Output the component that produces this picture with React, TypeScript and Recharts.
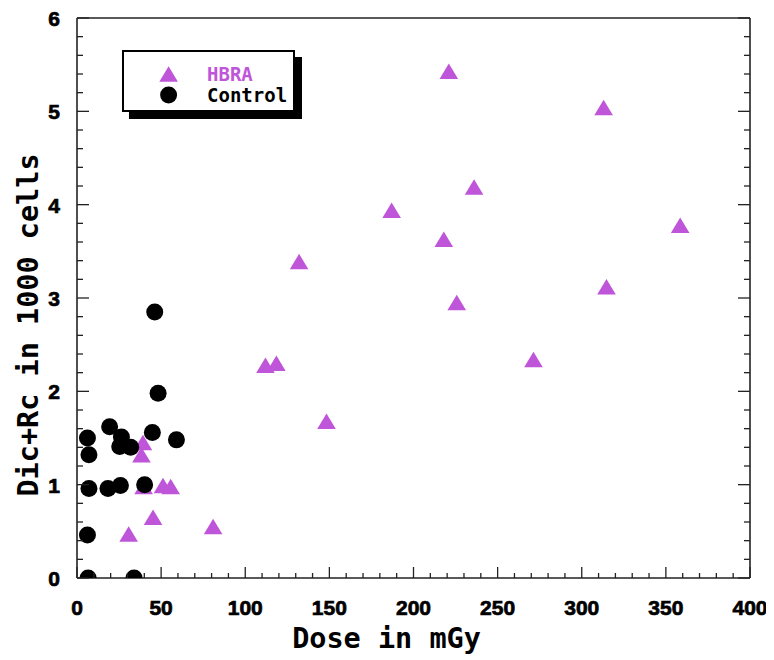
import { ScatterChart, Scatter, XAxis, YAxis, Legend } from "recharts";

const hbraDose = [221, 313, 236, 187, 218, 358.5, 225.7, 314.7, 132, 271.3, 112, 118.5, 148.3, 80.9, 45.2, 30.7, 39.2, 38.3, 51.1, 55.7, 39.6];
const hbraDicRc = [5.43, 5.04, 4.19, 3.94, 3.63, 3.78, 2.95, 3.12, 3.39, 2.34, 2.28, 2.3, 1.68, 0.55, 0.65, 0.47, 1.45, 1.32, 0.99, 0.98, 0.98];

const controlDose = [6.6, 33.9, 6.2, 7.1, 18.4, 25.8, 40.2, 7.1, 6.2, 19.4, 26.4, 25.4, 31.9, 44.8, 59.1, 48.2, 46.2];
const controlDicRc = [0, 0, 0.46, 0.96, 0.96, 0.99, 1.0, 1.32, 1.5, 1.62, 1.51, 1.41, 1.4, 1.56, 1.48, 1.98, 2.85];

const xMajor = [0, 50, 100, 150, 200, 250, 300, 350, 400];
const yMajor = [0, 1, 2, 3, 4, 5, 6];

const xTicks: number[] = [];
for (let v = 0; v <= 400; v += 10) xTicks.push(v);
const yTicks: number[] = [];
for (let i = 0; i <= 30; i++) yTicks.push(Math.round(i * 20) / 100);

const PURPLE = "#bf55d9";
const AXIS = "#222";
const MONO = "'DejaVu Sans Mono', monospace";
const SANS = "'Liberation Sans', Arial, sans-serif";

const hbraData = hbraDose.map((d, i) => ({ dose: d, val: hbraDicRc[i] }));
const controlData = controlDose.map((d, i) => ({ dose: d, val: controlDicRc[i] }));

const isMajorX = (v: number) => xMajor.includes(v);
const isMajorY = (v: number) => yMajor.some((m) => Math.abs(m - v) < 1e-6);

const Triangle = (props: any) => {
  const { cx, cy } = props;
  if (cx == null || cy == null) return null;
  return (
    <polygon
      points={`${cx},${cy - 7.8} ${cx - 9.3},${cy + 7.7} ${cx + 9.3},${cy + 7.7}`}
      fill={PURPLE}
    />
  );
};

const Dot = (props: any) => {
  const { cx, cy } = props;
  if (cx == null || cy == null) return null;
  return <circle cx={cx} cy={cy} r={8.5} fill="#000" />;
};

const BottomTick = (props: any) => {
  const { x, y, payload } = props;
  const major = isMajorX(payload.value);
  return (
    <g>
      <line x1={x} y1={y} x2={x} y2={y - (major ? 11 : 5)} stroke={AXIS} strokeWidth={1.3} />
      {major && (
        <text x={x} y={y + 37} textAnchor="middle" fontFamily={SANS} fontWeight="bold" fontSize={21} fill="#000" stroke="#000" strokeWidth={0.7}>
          {payload.value}
        </text>
      )}
    </g>
  );
};

const TopTick = (props: any) => {
  const { x, y, payload } = props;
  const major = isMajorX(payload.value);
  return <line x1={x} y1={y} x2={x} y2={y + (major ? 11 : 5)} stroke={AXIS} strokeWidth={1.3} />;
};

const LeftTick = (props: any) => {
  const { x, y, payload } = props;
  const major = isMajorY(payload.value);
  return (
    <g>
      <line x1={x} y1={y} x2={x + (major ? 12 : 6)} y2={y} stroke={AXIS} strokeWidth={1.3} />
      {major && (
        <text x={x - 17} y={y + 8} textAnchor="end" fontFamily={SANS} fontWeight="bold" fontSize={21} fill="#000" stroke="#000" strokeWidth={0.7}>
          {payload.value}
        </text>
      )}
    </g>
  );
};

const RightTick = (props: any) => {
  const { x, y, payload } = props;
  const major = isMajorY(payload.value);
  return <line x1={x} y1={y} x2={x - (major ? 12 : 6)} y2={y} stroke={AXIS} strokeWidth={1.3} />;
};

const XTitle = (props: any) => {
  const { viewBox } = props;
  const cx = viewBox.x + viewBox.width / 2 - 27;
  return (
    <text x={cx} y={viewBox.y + 70} textAnchor="middle" fontFamily={MONO} fontWeight="bold" fontSize={28.5} fill="#000">
      Dose in mGy
    </text>
  );
};

const YTitle = (props: any) => {
  const { viewBox } = props;
  const cy = viewBox.y + viewBox.height / 2 + 27;
  const x = 30;
  return (
    <text x={x} y={cy} transform={`rotate(-90, ${x}, ${cy})`} textAnchor="middle" fontFamily={MONO} fontWeight="bold" fontSize={28.5} fill="#000">
      Dic+Rc in 1000 cells
    </text>
  );
};

const legendItems = [
  { name: "HBRA", color: PURPLE, kind: "triangle" },
  { name: "Control", color: "#000", kind: "circle" },
];

const LegendBox = () => (
  <div
    style={{
      width: 173,
      height: 62,
      boxSizing: "border-box",
      border: "2px solid #000",
      background: "#fff",
      boxShadow: "7px 7px 0 #000",
      position: "relative",
    }}
  >
    {legendItems.map((it, i) => (
      <div key={it.name} style={{ position: "absolute", left: 0, top: 12 + i * 21, height: 20, display: "flex", alignItems: "center" }}>
        <svg width={80} height={20} style={{ display: "block" }}>
          {it.kind === "triangle" ? (
            <polygon points="44.6,2.2 35.3,17.7 53.9,17.7" fill={it.color} />
          ) : (
            <circle cx={44.6} cy={10} r={8.5} fill={it.color} />
          )}
        </svg>
        <span style={{ marginLeft: 3, fontFamily: MONO, fontWeight: "bold", fontSize: 19, color: it.color, lineHeight: "20px" }}>
          {it.name}
        </span>
      </div>
    ))}
  </div>
);

export default function App() {
  return (
    <div style={{ width: 766, height: 652, background: "#fff" }}>
      <ScatterChart width={766} height={652} margin={{ top: 0, right: 0, bottom: 0, left: 0 }}>
        <XAxis
          xAxisId="bottom"
          type="number"
          dataKey="dose"
          domain={[0, 400]}
          ticks={xTicks}
          interval={0}
          orientation="bottom"
          height={82}
          tickSize={0}
          tickMargin={0}
          tickLine={false}
          axisLine={{ stroke: AXIS, strokeWidth: 1.6 }}
          tick={<BottomTick />}
          label={<XTitle />}
          allowDataOverflow
        />
        <XAxis
          xAxisId="top"
          type="number"
          domain={[0, 400]}
          ticks={xTicks}
          interval={0}
          orientation="top"
          height={10}
          tickSize={0}
          tickMargin={0}
          tickLine={false}
          axisLine={{ stroke: AXIS, strokeWidth: 1.6 }}
          tick={<TopTick />}
          allowDataOverflow
        />
        <YAxis
          yAxisId="left"
          type="number"
          dataKey="val"
          domain={[0, 6]}
          ticks={yTicks}
          interval={0}
          orientation="left"
          width={69}
          tickSize={0}
          tickMargin={0}
          tickLine={false}
          axisLine={{ stroke: AXIS, strokeWidth: 1.6 }}
          tick={<LeftTick />}
          label={<YTitle />}
          allowDataOverflow
        />
        <YAxis
          yAxisId="right"
          type="number"
          domain={[0, 6]}
          ticks={yTicks}
          interval={0}
          orientation="right"
          width={24}
          tickSize={0}
          tickMargin={0}
          tickLine={false}
          axisLine={{ stroke: AXIS, strokeWidth: 1.6 }}
          tick={<RightTick />}
          allowDataOverflow
        />
        <Legend
          layout="horizontal"
          verticalAlign="middle"
          align="center"
          content={<LegendBox />}
          wrapperStyle={{ position: "absolute", left: 114, top: 42, width: 173, height: 62 }}
        />
        <Scatter
          name="HBRA"
          data={hbraData}
          xAxisId="bottom"
          yAxisId="left"
          shape={<Triangle />}
          isAnimationActive={false}
        />
        <Scatter
          name="Control"
          data={controlData}
          xAxisId="bottom"
          yAxisId="left"
          shape={<Dot />}
          isAnimationActive={false}
        />
      </ScatterChart>
    </div>
  );
}
